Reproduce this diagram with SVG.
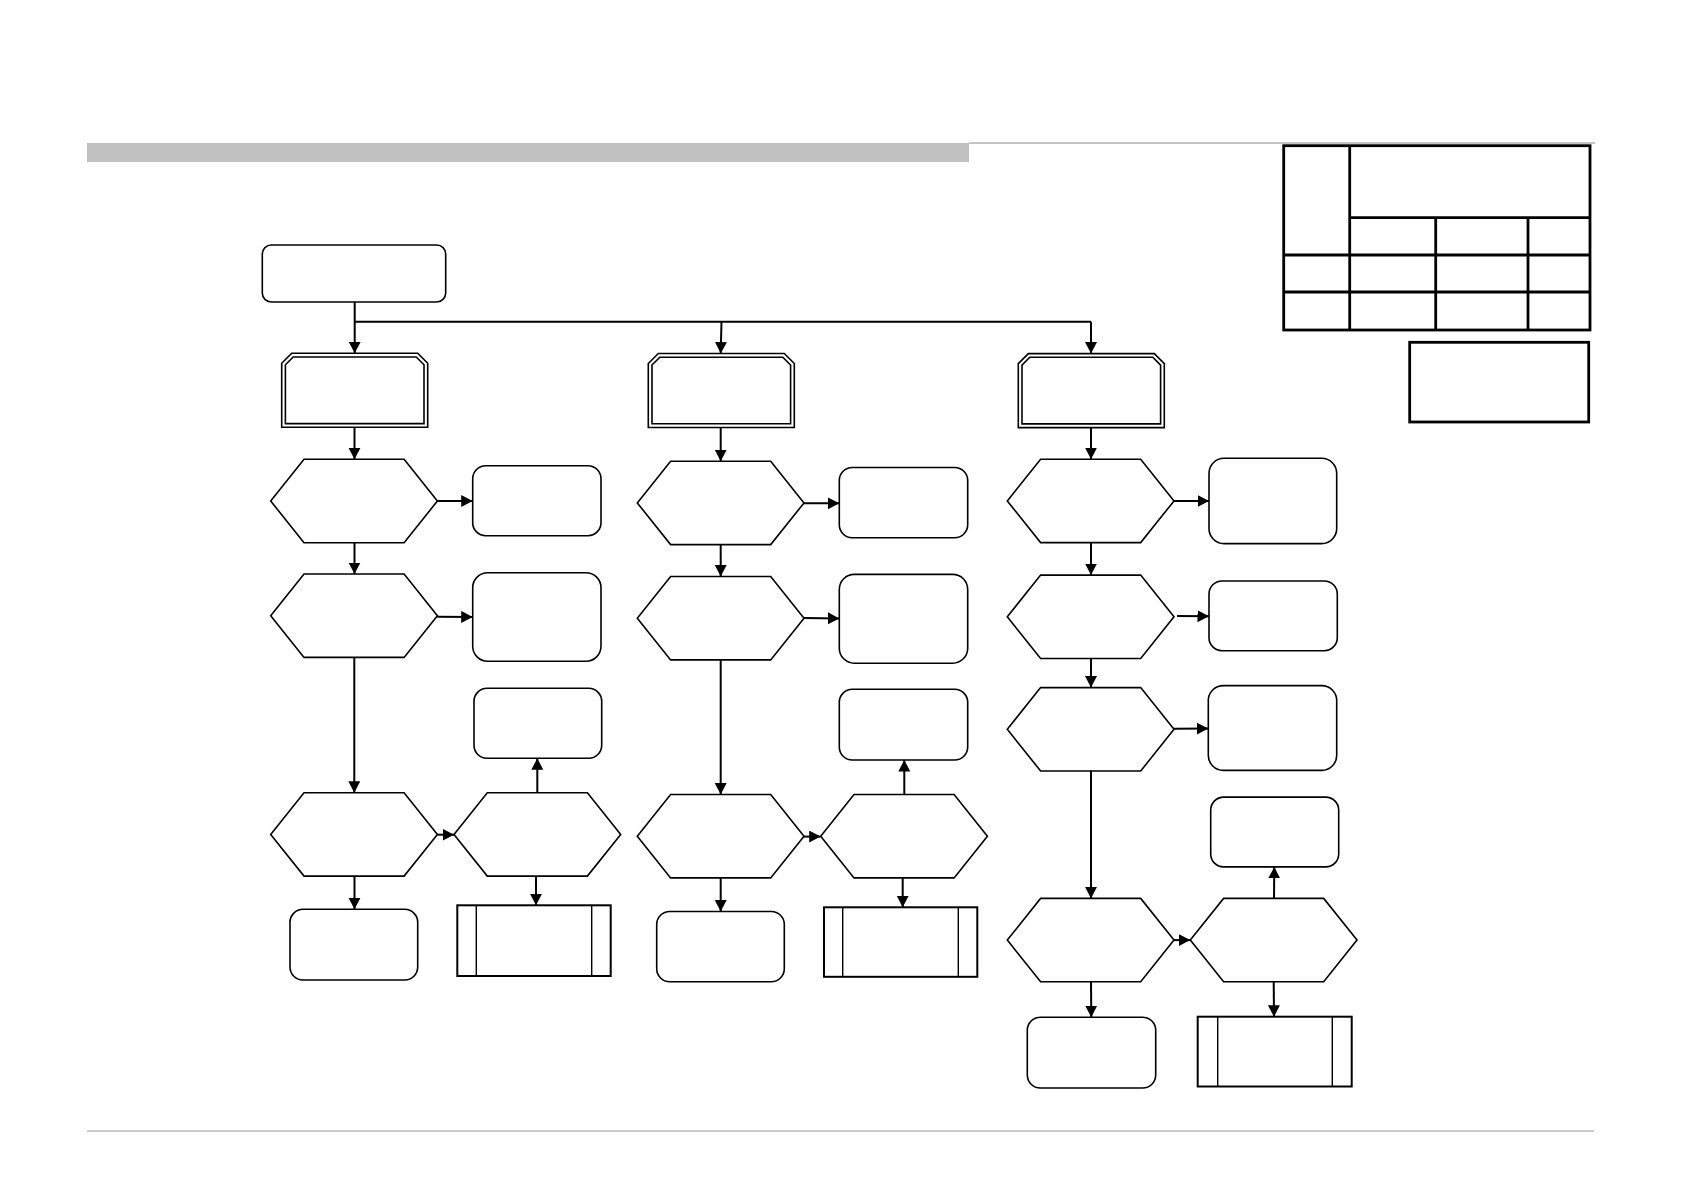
<svg xmlns="http://www.w3.org/2000/svg" width="1683" height="1191" viewBox="0 0 1683 1191">
<style>
.shape{fill:#fff;stroke:#000;stroke-width:1.6}
.pred{fill:#fff;stroke:#000;stroke-width:2}
.predl{fill:none;stroke:#000;stroke-width:1.4}
.conn{fill:none;stroke:#000;stroke-width:2}
.tbl{fill:none;stroke:#000;stroke-width:2.8}
</style>
<defs>
<marker id="ah" markerUnits="userSpaceOnUse" markerWidth="13" markerHeight="13" refX="11.5" refY="6" orient="auto">
<path d="M0,0 L11.5,6 L0,12 Z" fill="#000"/>
</marker>
<g id="oct">
<path class="shape" d="M0,10 L10,0 L136,0 L146,10 L146,74 L0,74 Z"/>
<path class="shape" d="M3.7,11.5 L11.5,3.7 L134.5,3.7 L142.3,11.5 L142.3,70.3 L3.7,70.3 Z"/>
</g>
<polygon id="hex" class="shape" points="0,41.7 33.3,0 133.4,0 166.7,41.7 133.4,83.4 33.3,83.4"/>
</defs>
<rect width="1683" height="1191" fill="#fff"/>
<g id="decor">
<rect x="87" y="143" width="882" height="19" fill="#c0c0c0"/>
<line x1="969" y1="143" x2="1595" y2="143" stroke="#c4c4c4" stroke-width="2"/>
<line x1="87" y1="1131" x2="1594" y2="1131" stroke="#bbb" stroke-width="1.5"/>
</g>
<g id="table">
<rect class="tbl" x="1283.7" y="145.7" width="306.3" height="184.3"/>
<line class="tbl" x1="1349.7" y1="145.7" x2="1349.7" y2="330"/>
<line class="tbl" x1="1349.7" y1="217.7" x2="1590" y2="217.7"/>
<line class="tbl" x1="1283.7" y1="255" x2="1590" y2="255"/>
<line class="tbl" x1="1283.7" y1="292" x2="1590" y2="292"/>
<line class="tbl" x1="1435.7" y1="217.7" x2="1435.7" y2="330"/>
<line class="tbl" x1="1528" y1="217.7" x2="1528" y2="330"/>
</g>
<g id="note"><rect class="tbl" x="1409.7" y="342.3" width="179" height="79.7" stroke-width="2.4"/></g>

<g id="start"><rect class="shape" x="262.3" y="245" width="183.4" height="57" rx="9"/></g>

<g id="oct1"><use href="#oct" x="281.7" y="353.3"/></g>
<g id="oct2"><use href="#oct" x="648.3" y="353.5"/></g>
<g id="oct3"><use href="#oct" x="1018.3" y="353.6"/></g>

<g id="hexA1"><use href="#hex" x="270.7" y="459.3"/></g>
<g id="hexB1"><use href="#hex" x="270.7" y="574"/></g>
<g id="hexC1"><use href="#hex" x="270.7" y="792.7"/></g>
<g id="hexD1"><use href="#hex" x="454" y="792.7"/></g>
<g id="boxA1"><rect class="shape" x="472.7" y="465.7" width="128.3" height="70" rx="13"/></g>
<g id="boxB1"><rect class="shape" x="472.7" y="572.7" width="128.3" height="88.6" rx="15"/></g>
<g id="boxC1"><rect class="shape" x="474" y="688.3" width="127.7" height="70" rx="13"/></g>
<g id="boxE1"><rect class="shape" x="290" y="909.3" width="127.7" height="70.7" rx="13"/></g>
<g id="predF1"><rect class="pred" x="457.3" y="905.3" width="153.4" height="70.7"/><line class="predl" x1="476.3" y1="905.3" x2="476.3" y2="976"/><line class="predl" x1="591.7" y1="905.3" x2="591.7" y2="976"/></g>

<g id="hexA2"><use href="#hex" x="637.3" y="461.2"/></g>
<g id="hexB2"><use href="#hex" x="637.3" y="576.5"/></g>
<g id="hexC2"><use href="#hex" x="637.3" y="794.5"/></g>
<g id="hexD2"><use href="#hex" x="820.7" y="794.5"/></g>
<g id="boxA2"><rect class="shape" x="839.3" y="467.5" width="128.4" height="70.3" rx="13"/></g>
<g id="boxB2"><rect class="shape" x="839.3" y="574.4" width="128.4" height="88.8" rx="15"/></g>
<g id="boxC2"><rect class="shape" x="839.3" y="689.3" width="128.4" height="70.7" rx="13"/></g>
<g id="boxE2"><rect class="shape" x="656.7" y="911.5" width="127.6" height="70.3" rx="13"/></g>
<g id="predF2"><rect class="pred" x="824" y="907.3" width="153.3" height="69.5"/><line class="predl" x1="842.7" y1="907.3" x2="842.7" y2="976.8" stroke-width="2"/><line class="predl" x1="958.3" y1="907.3" x2="958.3" y2="976.8" stroke-width="2"/></g>

<g id="hexA3"><use href="#hex" x="1007.3" y="459.2"/></g>
<g id="hexB3"><use href="#hex" x="1007.3" y="575.1"/></g>
<g id="hexC3"><use href="#hex" x="1007.3" y="687.6"/></g>
<g id="hexD3"><use href="#hex" x="1007.3" y="898.4"/></g>
<g id="hexE3"><use href="#hex" x="1190.3" y="898.4"/></g>
<g id="boxA3"><rect class="shape" x="1209" y="458.3" width="127.7" height="85.3" rx="15"/></g>
<g id="boxB3"><rect class="shape" x="1209" y="581" width="128.3" height="69.7" rx="13"/></g>
<g id="boxC3"><rect class="shape" x="1208.3" y="685.6" width="128.4" height="84.8" rx="15"/></g>
<g id="boxD3"><rect class="shape" x="1210.7" y="797.1" width="128" height="69.8" rx="13"/></g>
<g id="boxE3"><rect class="shape" x="1027.3" y="1017.2" width="128.4" height="70.8" rx="13"/></g>
<g id="predF3"><rect class="pred" x="1197.7" y="1016.7" width="154" height="69.8" stroke-width="2.4"/><line class="predl" x1="1217.7" y1="1016.7" x2="1217.7" y2="1086.5"/><line class="predl" x1="1332.3" y1="1016.7" x2="1332.3" y2="1086.5" stroke-width="2.4"/></g>

<g id="connectors" class="conn">
<line class="conn" x1="354.7" y1="302" x2="354.7" y2="353.3" marker-end="url(#ah)"/>
<line class="conn" x1="354.7" y1="321.7" x2="1091" y2="321.7" stroke-width="2.5"/>
<line class="conn" x1="721.5" y1="321.7" x2="720.7" y2="353.5" marker-end="url(#ah)"/>
<line class="conn" x1="1091" y1="321.7" x2="1091" y2="353.6" marker-end="url(#ah)"/>

<line class="conn" x1="354.5" y1="427.3" x2="354.5" y2="459.3" marker-end="url(#ah)"/>
<line class="conn" x1="437.3" y1="501" x2="472.7" y2="501" marker-end="url(#ah)"/>
<line class="conn" x1="354.5" y1="542.7" x2="354.5" y2="574" marker-end="url(#ah)"/>
<line class="conn" x1="437.3" y1="616.7" x2="472.7" y2="617" marker-end="url(#ah)"/>
<line class="conn" x1="354.3" y1="658" x2="354.3" y2="792.7" marker-end="url(#ah)"/>
<line class="conn" x1="437.3" y1="834.7" x2="454" y2="834.7" marker-end="url(#ah)"/>
<line class="conn" x1="537.3" y1="792.7" x2="537.3" y2="758.3" marker-end="url(#ah)"/>
<line class="conn" x1="354.5" y1="876" x2="354.5" y2="909.3" marker-end="url(#ah)"/>
<line class="conn" x1="536" y1="876" x2="536" y2="905.3" marker-end="url(#ah)"/>

<line class="conn" x1="720.7" y1="427.5" x2="720.7" y2="461.2" marker-end="url(#ah)"/>
<line class="conn" x1="804" y1="503.3" x2="839.3" y2="503.3" marker-end="url(#ah)"/>
<line class="conn" x1="720.7" y1="545" x2="720.7" y2="576.5" marker-end="url(#ah)"/>
<line class="conn" x1="804" y1="618" x2="839.3" y2="618.4" marker-end="url(#ah)"/>
<line class="conn" x1="720.7" y1="660.3" x2="720.7" y2="794.5" marker-end="url(#ah)"/>
<line class="conn" x1="804" y1="836.6" x2="820.7" y2="836.6" marker-end="url(#ah)"/>
<line class="conn" x1="904.3" y1="794.5" x2="904.3" y2="760" marker-end="url(#ah)"/>
<line class="conn" x1="720.7" y1="878.3" x2="720.7" y2="911.5" marker-end="url(#ah)"/>
<line class="conn" x1="902.7" y1="878.3" x2="902.7" y2="907.3" marker-end="url(#ah)"/>

<line class="conn" x1="1091" y1="427.7" x2="1091" y2="459.2" marker-end="url(#ah)"/>
<line class="conn" x1="1174" y1="501" x2="1209" y2="501" marker-end="url(#ah)"/>
<line class="conn" x1="1091" y1="542.6" x2="1091" y2="575.1" marker-end="url(#ah)"/>
<line class="conn" x1="1177" y1="616" x2="1209" y2="616.3" marker-end="url(#ah)"/>
<line class="conn" x1="1091" y1="658" x2="1091" y2="687.6" marker-end="url(#ah)"/>
<line class="conn" x1="1174" y1="728.8" x2="1208.3" y2="728.6" marker-end="url(#ah)"/>
<line class="conn" x1="1091" y1="770.4" x2="1091" y2="898.4" marker-end="url(#ah)"/>
<line class="conn" x1="1174" y1="940.1" x2="1190.3" y2="940.1" marker-end="url(#ah)"/>
<line class="conn" x1="1274" y1="898.4" x2="1274.3" y2="866.9" marker-end="url(#ah)"/>
<line class="conn" x1="1091" y1="981.8" x2="1091.3" y2="1017.2" marker-end="url(#ah)"/>
<line class="conn" x1="1273.7" y1="981.8" x2="1274" y2="1016.7" marker-end="url(#ah)"/>
</g>
</svg>
